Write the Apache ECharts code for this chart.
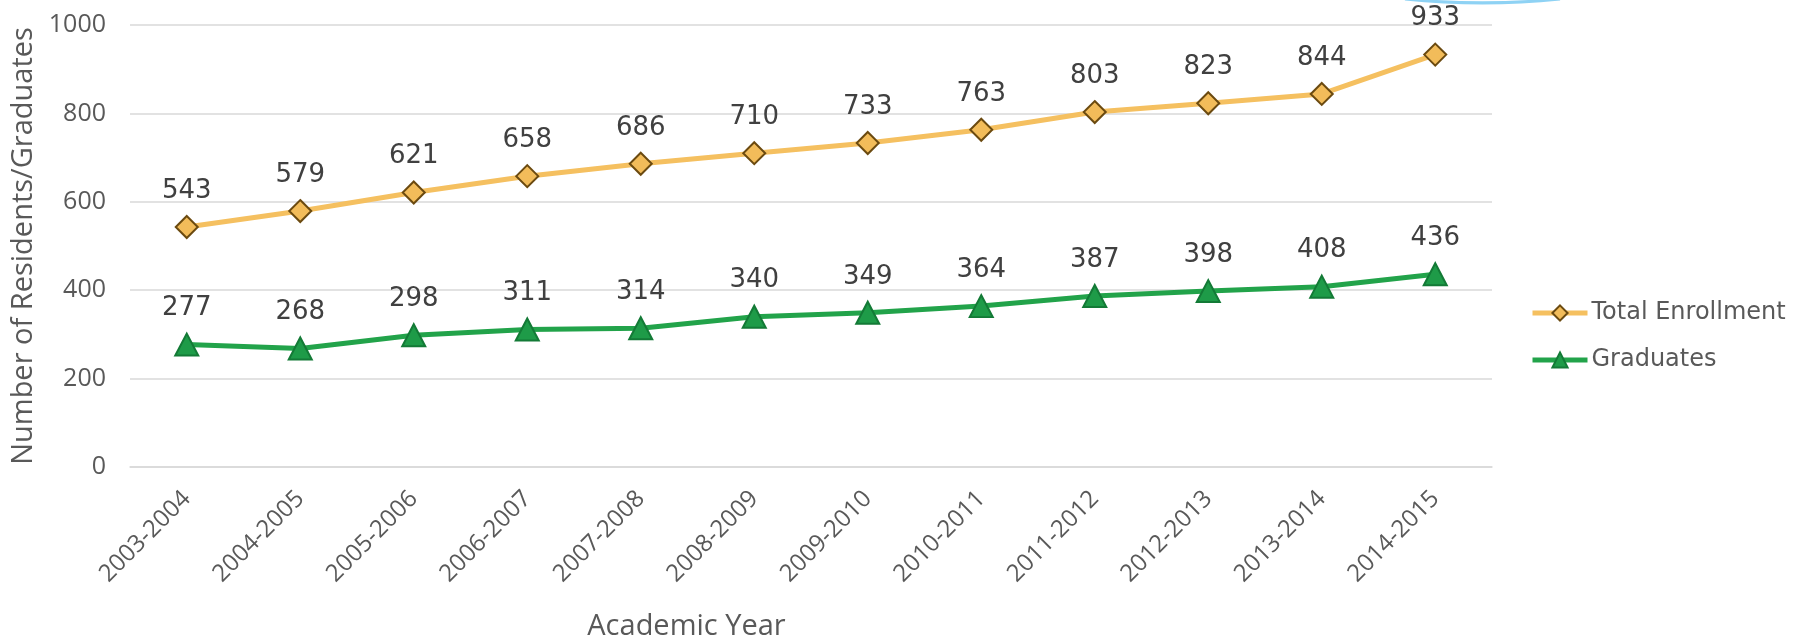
<!DOCTYPE html>
<html>
<head>
<meta charset="utf-8">
<script src="https://cdn.jsdelivr.net/npm/echarts@6/dist/echarts.min.js"></script>
<style>
  html, body { margin: 0; padding: 0; background: #ffffff; }
  #chart { width: 1806px; height: 639px; }
</style>
</head>
<body>
<div id="chart"></div>
<script>
const categories = ['2003-2004','2004-2005','2005-2006','2006-2007','2007-2008','2008-2009','2009-2010','2010-2011','2011-2012','2012-2013','2013-2014','2014-2015'];
const totalEnrollment = [543, 579, 621, 658, 686, 710, 733, 763, 803, 823, 844, 933];
const graduates = [277, 268, 298, 311, 314, 340, 349, 364, 387, 398, 408, 436];
const seriesNames = ['Total Enrollment', 'Graduates'];
const yTicks = { min: 0, max: 1000, interval: 200 };
const xAxisTitle = 'Academic Year';
const yAxisTitle = 'Number of Residents/Graduates';

const chart = echarts.init(document.getElementById('chart'), null, { renderer: 'canvas' });

const labelStyle = {
  show: true,
  position: 'top',
  distance: 11,
  fontFamily: 'DejaVu Sans',
  fontSize: 26,
  color: '#404040'
};

chart.setOption({
  animation: false,
  backgroundColor: '#ffffff',
  grid: { left: 130, right: 314, top: 25, bottom: 172, containLabel: false, outerBoundsMode: 'none' },
  graphic: [
    {
      type: 'bezierCurve',
      silent: true,
      shape: { x1: 1405, y1: -1, x2: 1560, y2: -1, cpx1: 1455, cpy1: 4, cpx2: 1510, cpy2: 4 },
      style: { stroke: '#8ED2F4', lineWidth: 3, fill: null }
    }
  ],
  legend: {
    orient: 'vertical',
    left: 1525,
    top: 296,
    itemWidth: 55,
    itemHeight: 19,
    itemGap: 23,
    textStyle: { fontFamily: 'DejaVu Sans', fontSize: 24, color: '#595959', padding: [0, 0, 0, -1] },
    data: [
      { name: seriesNames[0], itemStyle: { color: '#F2BC5A', borderColor: '#6B4A10', borderWidth: 2 }, lineStyle: { color: '#F5C060', width: 5 } },
      { name: seriesNames[1], itemStyle: { color: '#1E9B48', borderColor: '#137A36', borderWidth: 2 }, lineStyle: { color: '#22A34A', width: 5 } }
    ]
  },
  xAxis: {
    type: 'category',
    data: categories,
    boundaryGap: true,
    axisLine: { show: true, lineStyle: { color: '#D9D9D9', width: 1.5 } },
    axisTick: { show: false },
    axisLabel: {
      rotate: 45,
      margin: 28,
      fontFamily: 'Open Sans',
      fontSize: 24,
      color: '#595959',
      interval: 0
    },
    name: xAxisTitle,
    nameLocation: 'middle',
    nameGap: 145,
    nameTextStyle: { fontFamily: 'Open Sans', fontSize: 29, color: '#595959', padding: [0, 249, 0, 0] }
  },
  yAxis: {
    type: 'value',
    min: yTicks.min,
    max: yTicks.max,
    interval: yTicks.interval,
    axisLine: { show: false },
    axisTick: { show: false },
    splitLine: { show: true, lineStyle: { color: '#D9D9D9', width: 1.5 } },
    axisLabel: {
      margin: 24,
      fontFamily: 'Open Sans',
      fontSize: 25,
      color: '#595959',
      formatter: function (v) { return String(v); }
    },
    name: yAxisTitle,
    nameLocation: 'middle',
    nameGap: 88,
    nameRotate: 90,
    nameTextStyle: { fontFamily: 'Open Sans', fontSize: 29, color: '#595959' }
  },
  series: [
    {
      name: seriesNames[0],
      type: 'line',
      data: totalEnrollment,
      symbol: 'diamond',
      symbolSize: 22,
      lineStyle: { color: '#F5C060', width: 5 },
      itemStyle: { color: '#F2BC5A', borderColor: '#6B4A10', borderWidth: 2 },
      label: labelStyle,
      z: 3
    },
    {
      name: seriesNames[1],
      type: 'line',
      data: graduates,
      symbol: 'triangle',
      symbolSize: [23, 22],
      lineStyle: { color: '#22A34A', width: 5 },
      itemStyle: { color: '#1E9B48', borderColor: '#137A36', borderWidth: 2 },
      label: labelStyle,
      z: 3
    }
  ]
});
</script>
</body>
</html>
